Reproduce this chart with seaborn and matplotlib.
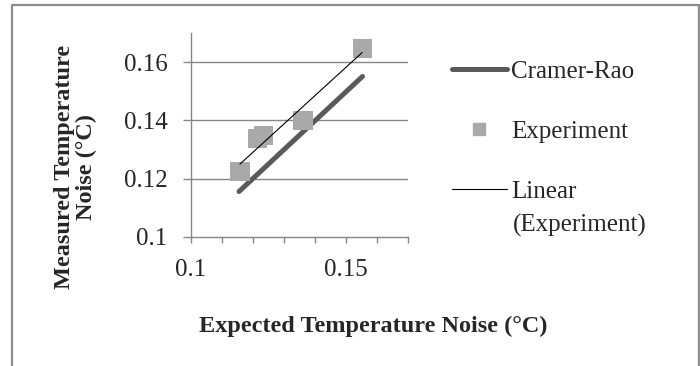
import matplotlib.pyplot as plt
import matplotlib.ticker as mticker
from matplotlib.lines import Line2D
import numpy as np
import pandas as pd
import seaborn as sns

# data
expected = [0.1158, 0.1214, 0.1235, 0.1362, 0.1553]
measured = [0.1225, 0.1338, 0.1348, 0.1401, 0.1648]
cr_x = [0.1155, 0.1554]
cr_y = [0.1156, 0.1551]

x_major = [0.1, 0.15]
x_major_labels = ['0.1', '0.15']
y_ticks = [0.1, 0.12, 0.14, 0.16]
y_tick_labels = ['0.1', '0.12', '0.14', '0.16']

df = pd.DataFrame({'expected': expected, 'measured': measured})
df_cr = pd.DataFrame({'x': cr_x, 'y': cr_y})

sns.set_style('white')
plt.rcParams['font.family'] = ['Liberation Serif', 'DejaVu Serif']

gray = '#868686'
marker_col = '#a9a9a9'

fig = plt.figure(figsize=(7, 3.66), dpi=100)
ax = fig.add_axes([0.2729, 0.3525, 0.3095, 0.5573])

ax.grid(False)
for y in y_ticks[1:]:
    ax.axhline(y, color=gray, lw=1.0, zorder=0)

sns.lineplot(data=df_cr, x='x', y='y', ax=ax, color='#5a5a5a', lw=3.6,
             solid_capstyle='round', zorder=2)
sns.scatterplot(data=df, x='expected', y='measured', ax=ax, marker='s',
                s=190, color=marker_col, edgecolor='none', zorder=3)
sns.regplot(data=df, x='expected', y='measured', ax=ax, scatter=False,
            ci=None, truncate=True, color='black',
            line_kws={'lw': 0.8, 'zorder': 4})

ax.set_xlim(0.1, 0.17)
ax.set_ylim(0.1, 0.17)
ax.set_xticks(x_major, labels=x_major_labels)
ax.xaxis.set_minor_locator(mticker.MultipleLocator(0.01))
ax.set_yticks(y_ticks, labels=y_tick_labels)
ax.set_xlabel('')
ax.set_ylabel('')

for s in ['top', 'right']:
    ax.spines[s].set_visible(False)
for s in ['left', 'bottom']:
    ax.spines[s].set_color(gray)
    ax.spines[s].set_linewidth(1.0)

ax.tick_params(axis='x', which='both', direction='out', length=4, width=1,
               color=gray, bottom=True, labelsize=18, pad=12)
ax.tick_params(axis='y', which='major', direction='out', length=6, width=1,
               color=gray, left=True, labelsize=18, pad=11)

fig.text(0.533, 0.109, 'Expected Temperature Noise (°C)', ha='center',
         va='center', fontsize=17.5, fontweight='bold')
fig.text(0.108, 0.544, 'Measured Temperature\nNoise (°C)', ha='center',
         va='center', rotation=90, fontsize=17.5, fontweight='bold',
         multialignment='center', linespacing=1.1)

handles = [
    Line2D([], [], color='#5a5a5a', lw=3.6, solid_capstyle='round'),
    Line2D([], [], marker='s', ls='none', color=marker_col, markersize=9),
    Line2D([], [], color='black', lw=0.8),
]
labels = ['Cramer-Rao', 'Experiment', 'Linear']
leg = fig.legend(handles, labels, loc='upper left', bbox_to_anchor=(0.645, 0.835),
                 frameon=False, fontsize=18, handlelength=2.2, handletextpad=0.2,
                 labelspacing=1.5, borderpad=0, borderaxespad=0)
# second line of the last legend entry
fig.text(513 / 700, 1 - 225 / 366, '(Experiment)', ha='left', va='center',
         fontsize=18)

# outer chart border, open at the bottom
bx = [12 / 700, 12 / 700, 699 / 700, 699 / 700]
by = [0, 1 - 5 / 366, 1 - 5 / 366, 0]
fig.add_artist(Line2D(bx, by, transform=fig.transFigure, color='#8c8c8c', lw=1.6))

fig.savefig('out.png', dpi=100)
